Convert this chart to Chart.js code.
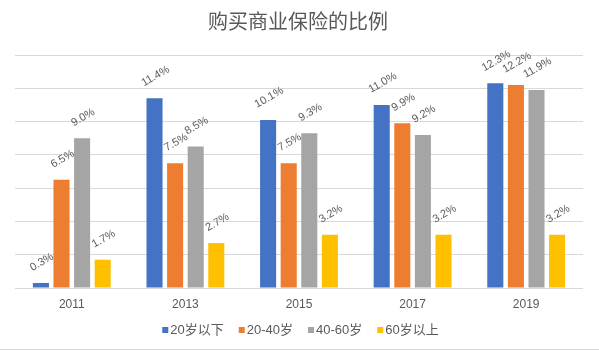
<!DOCTYPE html>
<html><head><meta charset="utf-8">
<script src="https://cdn.jsdelivr.net/npm/chart.js@4/dist/chart.umd.min.js"></script>
<style>html,body{margin:0;padding:0;background:#fff}#wrap{width:599px;height:351px;position:relative}</style>
</head><body><div id="wrap"><canvas id="c" width="599" height="351"></canvas></div>
<script>
const chartTitle = "购买商业保险的比例";
const categories = ["2011", "2013", "2015", "2017", "2019"];
const seriesNames = ["20岁以下", "20-40岁", "40-60岁", "60岁以上"];
const under20 = [0.3, 11.4, 10.1, 11.0, 12.3];
const age20to40 = [6.5, 7.5, 7.5, 9.9, 12.2];
const age40to60 = [9.0, 8.5, 9.3, 9.2, 11.9];
const over60 = [1.7, 2.7, 3.2, 3.2, 3.2];
const yMin = 0, yMax = 14, yStep = 2;
const colors = ["#4472C4", "#ED7D31", "#A5A5A5", "#FFC000"];

const FONT = '"Liberation Sans", "Noto Sans CJK SC", sans-serif';
const TEXT = '#595959';
const GRID = '#D9D9D9';

const seriesData = [under20, age20to40, age40to60, over60];

const labelPlugin = {
  id: 'barLabels',
  afterDatasetsDraw(chart) {
    const ctx = chart.ctx;
    ctx.save();
    ctx.font = '11px ' + FONT;
    ctx.fillStyle = TEXT;
    const th = 30 * Math.PI / 180;
    chart.data.datasets.forEach((ds, i) => {
      const meta = chart.getDatasetMeta(i);
      meta.data.forEach((bar, j) => {
        const txt = ds.data[j].toFixed(1) + '%';
        const w = ctx.measureText(txt).width;
        const h = 8;
        const half = (w * Math.sin(th) + h * Math.cos(th)) / 2;
        ctx.save();
        ctx.translate(bar.x + 1, bar.y - 11 - half);
        ctx.rotate(-th);
        ctx.textAlign = 'center';
        ctx.textBaseline = 'middle';
        ctx.fillText(txt, 0, 0);
        ctx.restore();
      });
    });
    ctx.restore();
  }
};

const decorPlugin = {
  id: 'decor',
  afterDraw(chart) {
    const ctx = chart.ctx;
    ctx.save();
    // title
    ctx.font = '20px ' + FONT;
    ctx.fillStyle = TEXT;
    ctx.textAlign = 'center';
    ctx.textBaseline = 'middle';
    ctx.fillText(chartTitle, 298, 23);
    // legend
    ctx.font = '13px ' + FONT;
    const box = 6, gapBT = 2, gapItems = 15;
    const widths = seriesNames.map(n => ctx.measureText(n).width);
    let total = widths.reduce((a, b) => a + b, 0) + seriesNames.length * (box + gapBT) + (seriesNames.length - 1) * gapItems;
    let x = 300.5 - total / 2;
    const y = 330;
    ctx.textAlign = 'left';
    seriesNames.forEach((n, i) => {
      ctx.fillStyle = colors[i];
      ctx.fillRect(x, y - 3, box, box);
      x += box + gapBT;
      ctx.fillStyle = TEXT;
      ctx.fillText(n, x, y);
      x += widths[i] + gapItems;
    });
    // bottom border
    ctx.strokeStyle = GRID;
    ctx.lineWidth = 1;
    ctx.beginPath();
    ctx.moveTo(0, 349.5);
    ctx.lineTo(599, 349.5);
    ctx.stroke();
    ctx.restore();
  }
};

new Chart(document.getElementById('c'), {
  type: 'bar',
  data: {
    labels: categories,
    datasets: seriesNames.map((n, i) => ({
      label: n,
      data: seriesData[i],
      backgroundColor: colors[i],
      borderWidth: 0,
      categoryPercentage: 0.725,
      barPercentage: 0.78
    }))
  },
  options: {
    responsive: false,
    animation: false,
    devicePixelRatio: 1,
    layout: { padding: { left: 15, right: 16, top: 55, bottom: 0 } },
    plugins: {
      legend: { display: false },
      title: { display: false },
      tooltip: { enabled: false }
    },
    scales: {
      x: {
        grid: { display: false },
        border: { display: false },
        ticks: { color: TEXT, font: { size: 12, family: FONT }, padding: 1 },
        afterFit(s) { s.height = 63; }
      },
      y: {
        min: yMin,
        max: yMax,
        ticks: { stepSize: yStep, display: false },
        grid: { color: GRID, drawTicks: false, lineWidth: 1 },
        border: { display: false },
        afterFit(s) { s.width = 0; }
      }
    }
  },
  plugins: [labelPlugin, decorPlugin]
});
</script>
</body></html>
